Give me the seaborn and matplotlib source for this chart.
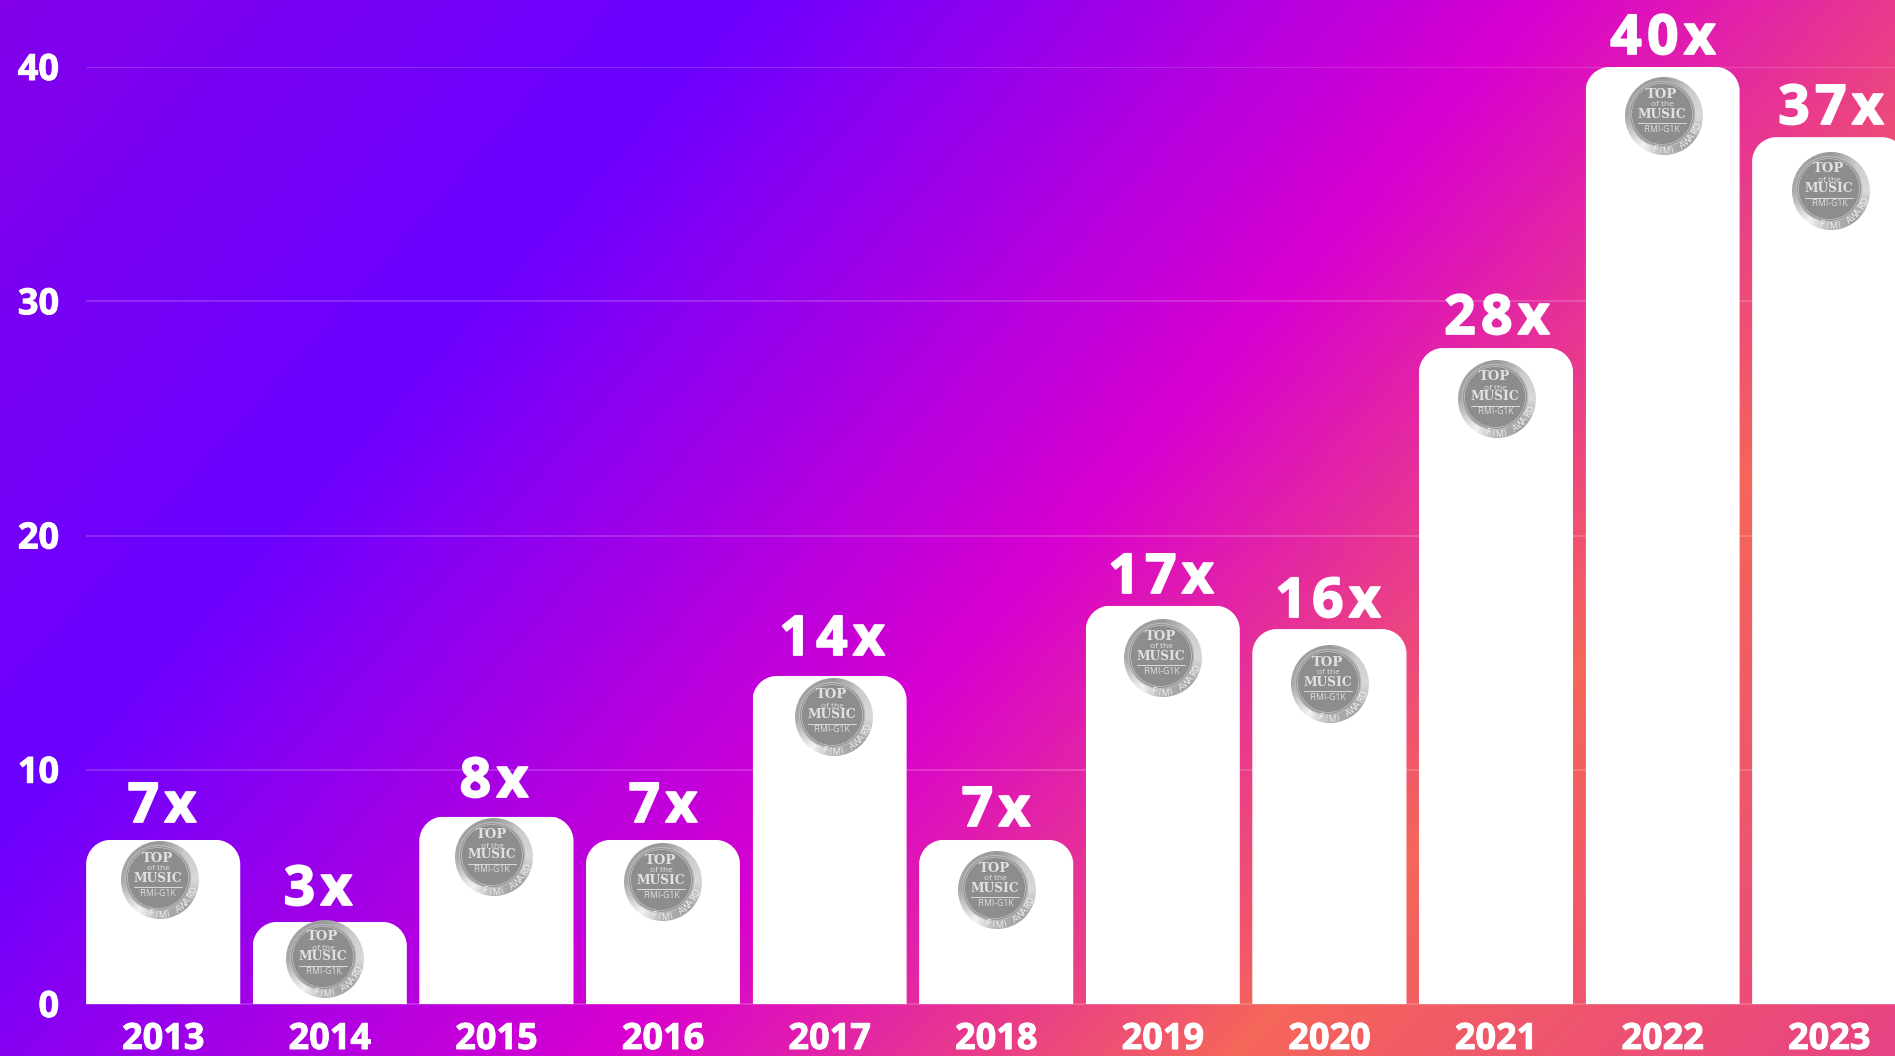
import numpy as np
import pandas as pd
import seaborn as sns
import matplotlib
matplotlib.use("Agg")
import matplotlib.pyplot as plt
import matplotlib.patheffects as pe
from matplotlib.colors import LinearSegmentedColormap
from matplotlib.patches import Circle, PathPatch
from matplotlib.path import Path

years = ["2013", "2014", "2015", "2016", "2017", "2018", "2019", "2020", "2021", "2022", "2023"]
values = [7, 3.5, 8, 7, 14, 7, 17, 16, 28, 40, 37]
value_labels = ["7x", "3x", "8x", "7x", "14x", "7x", "17x", "16x", "28x", "40x", "37x"]
y_ticks = [0, 10, 20, 30, 40]

W, H = 1895, 1056
FONT = "Open Sans"
label_px = [(162, 802), (318, 885), (494, 777), (663, 802), (832, 635), (996, 806),
            (1161, 573), (1328, 597), (1497, 314), (1663, 34), (1831, 104)]
medal_px = [(160, 880), (325, 959), (494, 857), (663, 882), (834, 717), (997, 890),
            (1163, 658), (1330, 684), (1497, 399), (1664, 116), (1831, 191)]

sns.set_theme(style="white")
fig = plt.figure(figsize=(W / 100, H / 100), dpi=100)

# page background
bg = fig.add_axes([0, 0, 1, 1], zorder=0)
bg.axis("off")
yy, xx = np.mgrid[0:H:2j * 264, 0:W:2j * 474]
t = (xx + 0.89 * yy) / 1.2085
stops = [(0, "#8400ea"), (600 / 2400, "#6a00ff"), (1280 / 2400, "#d800d0"),
         (1800 / 2400, "#f5665a"), (1, "#e63f88")]
cmap = LinearSegmentedColormap.from_list("page", stops)
bg.imshow(t, cmap=cmap, vmin=0, vmax=2400, aspect="auto", extent=[0, W, H, 0], interpolation="bilinear")

# chart
L, B, T = 86, 1004, 67
ax = fig.add_axes([L / W, 0, 1 - L / W, (1056 - T) / H], zorder=1)
ax.patch.set_alpha(0)
df = pd.DataFrame({"year": years, "value": values})
sns.barplot(data=df, x="year", y="value", color="white", width=0.924, saturation=1, ax=ax, zorder=3)
px_x = 166.6
px_y = (B - T) / 40
ax.set_xlim((L - 163.2) / px_x, (W - 163.2) / px_x)
ax.set_ylim(-(1056 - B) / px_y, 40)
for s in ax.spines.values():
    s.set_visible(False)
ax.set_xlabel("")
ax.set_ylabel("")
ax.set_yticks(y_ticks)
ax.tick_params(axis="both", length=0)
ax.set_xticks(range(len(years)))
ax.set_xticklabels([])
ax.set_yticklabels([])
ax.grid(False)
for v in y_ticks:
    ax.axhline(v, color="white", alpha=0.22, lw=1.1, zorder=1)

# rounded upper corners
rx, ry = 24 / px_x, 24 / px_y
k = 0.55
for bar in ax.patches:
    x0, w, h = bar.get_x(), bar.get_width(), bar.get_height()
    x1 = x0 + w
    verts = [(x0, 0), (x0, h - ry), (x0, h - ry * (1 - k)), (x0 + rx * (1 - k), h), (x0 + rx, h),
             (x1 - rx, h), (x1 - rx * (1 - k), h), (x1, h - ry * (1 - k)), (x1, h - ry), (x1, 0), (x0, 0)]
    codes = [Path.MOVETO, Path.LINETO, Path.CURVE4, Path.CURVE4, Path.CURVE4, Path.LINETO,
             Path.CURVE4, Path.CURVE4, Path.CURVE4, Path.LINETO, Path.CLOSEPOLY]
    bar.set_clip_path(PathPatch(Path(verts, codes), transform=ax.transData))

# overlay in pixel coordinates
ov = fig.add_axes([0, 0, 1, 1], zorder=2)
ov.axis("off")
ov.patch.set_alpha(0)
tick_fx = [pe.withStroke(linewidth=0.7, foreground="white")]
value_fx = [pe.withStroke(linewidth=1.3, foreground="white")]
for v in y_ticks:
    ov.text(59, B - v * px_y + 4, str(v), color="white", fontsize=26, fontweight="bold",
            family=FONT, ha="right", va="center", path_effects=tick_fx)
for i, yr in enumerate(years):
    ov.text(163.2 + i * px_x, 1040, yr, color="white", fontsize=26, fontweight="bold",
            family=FONT, ha="center", va="center", path_effects=tick_fx)
HAIR = "\u200a"
for (x, y), lab in zip(label_px, value_labels):
    ov.text(x, y + 20, HAIR.join(lab), color="white", fontsize=39.5, fontweight="bold",
            family=FONT, ha="center", va="baseline", path_effects=value_fx)

# medals: rim sheen runs round the disc
R = 39
rim_angles = [0, 45, 90, 125, 180, 270, 315, 360]
rim_grey = [0.85, 0.62, 0.70, 0.95, 0.66, 0.60, 0.80, 0.85]
gy, gx = np.mgrid[-1:1:120j, -1:1:120j]
ang = np.degrees(np.arctan2(gy, gx)) % 360
rim = np.interp(ang, rim_angles, rim_grey)
TXT = "#e2e1e1"
for (mx, my) in medal_px:
    im = ov.imshow(rim, cmap="gray", vmin=0, vmax=1, extent=[mx - R, mx + R, my + R, my - R], zorder=5,
                   interpolation="bilinear", aspect="auto")
    im.set_clip_path(Circle((mx, my), R, transform=ov.transData))
    cx, cy = mx - 2, my - 2
    ov.add_patch(Circle((cx, cy), 32.5, fc="#8f8d8c", ec="#b9b7b7", lw=1, zorder=6))
    ov.add_patch(Circle((cx, cy), 30.5, fc="none", ec="#c9c7c7", lw=0.5, zorder=7))
    ov.text(cx, my - 22, "TOP", family="DejaVu Serif", fontweight="bold", fontsize=9.5,
            color=TXT, ha="center", va="center", zorder=8)
    ov.text(cx, my - 11, "of the", family=FONT, fontsize=6, color=TXT, ha="center", va="center", zorder=8)
    ov.text(cx, my - 2, "MUSIC", family="DejaVu Serif", fontweight="bold", fontsize=8.8,
            color=TXT, ha="center", va="center", zorder=8)
    ov.plot([cx - 24, cx + 24], [my + 6.5, my + 6.5], color="#dcdbdb", lw=0.7, zorder=8)
    ov.text(cx, my + 13, "FIMI-G1K", family=FONT, fontsize=6.2, color=TXT, ha="center", va="center", zorder=8)
    word = "FIMI AWARD"
    angs = np.linspace(107, 17, len(word))
    for ch, a in zip(word, angs):
        ar = np.radians(a)
        ov.text(mx + 35 * np.cos(ar), my + 35 * np.sin(ar), ch, family=FONT, fontsize=6.5, color="#f4f3f3",
                rotation=90 - a, rotation_mode="anchor", ha="center", va="center", zorder=8)
ov.set_xlim(0, W)
ov.set_ylim(H, 0)
ov.set_aspect("auto")

fig.savefig("out.png", dpi=100)
